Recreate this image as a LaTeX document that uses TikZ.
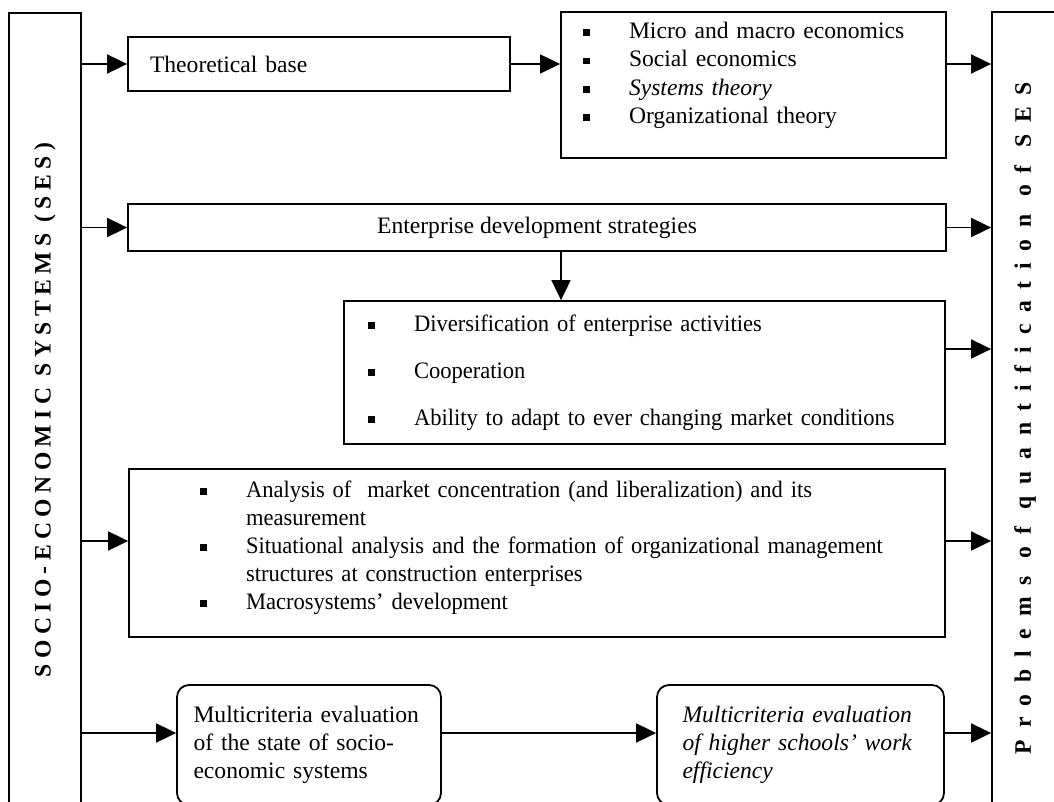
\documentclass[tikz,border=0pt]{standalone}
\usepackage{fontspec}
\setmainfont{Liberation Serif}
\newfontfamily\sesleftfont[LetterSpace=23]{Liberation Serif}
\newfontfamily\sesrightfont[LetterSpace=50]{Liberation Serif}
\newfontfamily\sesnarrowfont[FakeStretch=0.955, Ligatures=TeX]{Liberation Serif}
\usetikzlibrary{positioning,arrows.meta}
\newcommand{\sesbullet}{\makebox[23pt][l]{\rule[1.3pt]{3.4pt}{3.4pt}}}
\tikzset{
    sesbar/.style={draw, line width=0.9pt, inner sep=0pt},
    sesplain/.style={draw, line width=0.9pt, align=center},
    seslist/.style={draw, line width=0.9pt, align=left},
    seseval/.style={draw, line width=0.9pt, rounded corners=6pt, align=left, minimum height=60pt},
    sesarrow/.style={draw, line width=0.9pt, -{Triangle[length=10pt,width=9.5pt]}}
}

\begin{document}
\begin{tikzpicture}[x=0.5pt, y=-0.5pt, font=\fontsize{11.8}{14}\selectfont]
    \clip (0,0) rectangle (1054,802);
    \node[sesbar, minimum width=36pt, minimum height=397pt] (ses) at (45,410) {\rotatebox{90}{\sesleftfont\bfseries SOCIO-ECONOMIC SYSTEMS (SES)}};
    \node[sesbar, minimum width=33pt, minimum height=406pt] (prob) at (1025,418) {\rotatebox{90}{\sesrightfont\bfseries Problems of quantification of SES}};
    \node[sesplain, minimum width=191pt, minimum height=27pt, text width=169pt, inner xsep=11pt, align=left] (theo) at (319,64) {Theoretical base};
    \node[seslist, text width=170.5pt, inner xsep=11pt, minimum height=73pt, font=\fontsize{11.8}{14.2}\selectfont] (theory) at (753.5,85) {\sesbullet Micro and macro economics\\ \sesbullet Social economics\\ \sesbullet \textit{Systems theory}\\ \sesbullet Organizational theory\rule[-12pt]{0pt}{0pt}};
    \node[sesplain, minimum width=409pt, minimum height=23.5pt] (ent) at (537,227.5) {Enterprise development strategies};
    \node[seslist, text width=276.5pt, inner xsep=12pt, minimum height=71.5pt, font=\fontsize{11.8}{23.5}\selectfont\sesnarrowfont] (strat) at (644.5,372.5) {\sesbullet Diversification of enterprise activities\\ \sesbullet Cooperation\\ \sesbullet \mbox{Ability to adapt to ever changing market conditions}};
    \node[seslist, text width=337pt, inner xsep=35.5pt, minimum height=84pt, font=\fontsize{11.8}{14}\selectfont\sesnarrowfont] (anal) at (537,553) {\sesbullet \mbox{Analysis of\ \ market concentration (and liberalization) and its}\\ \hspace*{23pt}measurement\\ \sesbullet \mbox{Situational analysis and the formation of organizational management}\\ \hspace*{23pt}\mbox{structures at construction enterprises}\\ \sesbullet Macrosystems’ development\rule[-7.8pt]{0pt}{0pt}};
    \node[seseval, text width=115.5pt, inner xsep=8.25pt] (evalses) at (309,745) {\makebox[115.5pt][s]{Multicriteria evaluation}\\ \makebox[115.5pt][s]{of the state of socio-}\\ economic systems};
    \node[seseval, text width=118pt, inner xsep=12.75pt, font=\fontsize{11.8}{14}\selectfont\itshape] (evalhs) at (800.5,745) {\makebox[118pt][s]{Multicriteria evaluation}\\ \makebox[118pt][s]{of higher schools’ work}\\ efficiency};

    \coordinate (drop) at ([xshift=-41.75pt]strat.north);
    \coordinate (stratout) at ([yshift=11.75pt]strat.east);
    \coordinate (analin) at ([yshift=6pt]anal.west);
    \coordinate (analout) at ([yshift=6pt]anal.east);
    \coordinate (evalrow) at ([yshift=6pt]evalses.west);

    \draw[sesarrow] (ses.east |- theo.west) -- (theo.west);
    \draw[sesarrow] (theo.east) -- (theo.east -| theory.west);
    \draw[sesarrow] (theory.east |- theo.east) -- (prob.west |- theo.east);
    \draw[sesarrow] (ses.east |- ent.west) -- (ent.west);
    \draw[sesarrow] (ent.east) -- (prob.west |- ent.east);
    \draw[sesarrow] (drop |- ent.south) -- (drop);
    \draw[sesarrow] (stratout) -- (prob.west |- stratout);
    \draw[sesarrow] (ses.east |- analin) -- (analin);
    \draw[sesarrow] (analout) -- (prob.west |- analout);
    \draw[sesarrow] (ses.east |- evalrow) -- (evalrow);
    \draw[sesarrow] (evalses.east |- evalrow) -- (evalhs.west |- evalrow);
    \draw[sesarrow] (evalhs.east |- evalrow) -- (prob.west |- evalrow);
\end{tikzpicture}
\end{document}
